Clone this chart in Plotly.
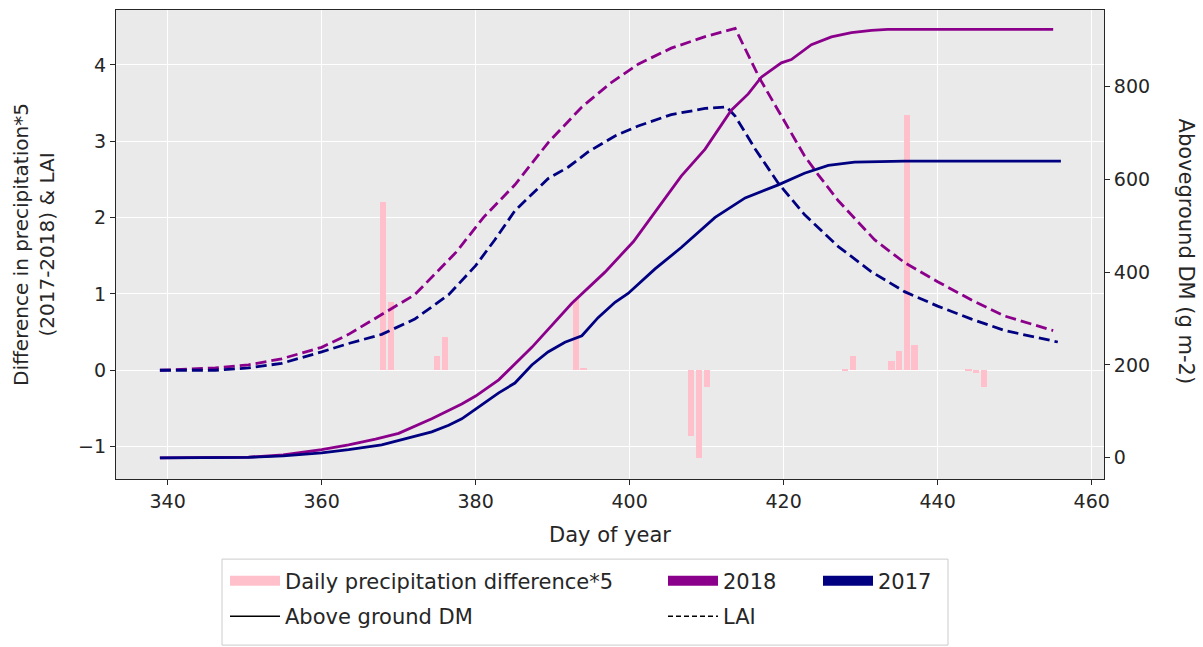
import plotly.graph_objects as go

# ---------------- data ----------------
precip_days = [368, 369, 375, 376, 393, 394, 408, 409, 410, 428, 429, 434, 435, 436, 437, 444, 445, 446]
precip_diff5 = [2.21, 0.89, 0.19, 0.44, 0.94, 0.03, -0.86, -1.15, -0.22, 0.02, 0.19, 0.12, 0.25, 3.35, 0.33, 0.02, -0.03, -0.22]

dm18_days = [339, 345, 350.5, 355, 360, 363.5, 367, 370, 374.3, 378.2, 380, 383, 387.3, 392.5, 396.8, 400.5,
             403.7, 406.7, 409.8, 413.2, 415.4, 417.1, 419.7, 421, 423.6, 426.2, 428.8, 431.4, 433.5, 455]
dm18 = [0, 0.5, 1.3, 6, 17.5, 28, 40, 52.6, 84, 116, 133, 168, 238, 333, 400, 466,
        540, 607, 665, 749, 784, 820, 851, 858, 890, 907, 916, 921, 923, 923]

dm17_days = [339, 350.5, 355, 360, 363.5, 367.8, 370.8, 374.3, 376.5, 378.2, 380, 383, 385.1, 387.3, 389.4, 391.6,
             393.8, 395.9, 398.1, 399.8, 403.3, 406.7, 411.1, 415, 419.3, 422.7, 425.8, 429.2, 435.7, 456]
dm17 = [0, 1, 4, 10.5, 17.5, 28, 40.6, 56, 70, 84, 105, 140, 161, 200, 228, 249,
        263, 302, 335, 354, 407, 453, 518, 560, 588, 613, 630, 637, 639, 639]

lai18_days = [339, 346.2, 350.5, 354.8, 360, 363.5, 367.8, 372.1, 377.5, 381, 385.1, 389.4, 393.8, 397.5, 401.1,
              405.4, 409.8, 413.7, 416.9, 422.7, 424.5, 427.1, 431.8, 435.7, 440, 444.4, 448.7, 455]
lai18 = [0, 0.03, 0.07, 0.15, 0.30, 0.47, 0.73, 0.99, 1.55, 2.0, 2.43, 2.98, 3.45, 3.76, 4.01,
         4.22, 4.37, 4.48, 3.82, 2.81, 2.56, 2.22, 1.71, 1.41, 1.16, 0.92, 0.71, 0.52]

lai17_days = [339, 346.2, 350.5, 354.8, 360, 363.5, 367.8, 372.1, 376.5, 380, 382.5, 385.1, 389.4, 392, 394.6,
              398.1, 401.1, 405.4, 409.8, 412.6, 413.7, 416.3, 419.3, 422.7, 427.1, 431.4, 435.7, 440, 444.4,
              448.7, 455.6]
lai17 = [0, 0.0, 0.03, 0.09, 0.24, 0.35, 0.47, 0.67, 0.99, 1.37, 1.71, 2.09, 2.51, 2.66, 2.86,
         3.07, 3.20, 3.35, 3.43, 3.45, 3.33, 2.90, 2.45, 2.04, 1.62, 1.29, 1.03, 0.84, 0.67,
         0.52, 0.37]

x_ticks = [340, 360, 380, 400, 420, 440, 460]
yl_ticks = [-1, 0, 1, 2, 3, 4]
yr_ticks = [0, 200, 400, 600, 800]

C18 = "#8B008B"
C17 = "#000080"
CPINK = "#FFC0CB"
FONT = "DejaVu Sans"
TXT = "#262626"

fig = go.Figure()

fig.add_trace(go.Bar(x=precip_days, y=precip_diff5, width=0.8, marker=dict(color=CPINK, line=dict(width=0)),
                     showlegend=False, yaxis="y"))
fig.add_trace(go.Scatter(x=lai18_days, y=lai18, mode="lines", line=dict(color=C18, width=2.8, dash="11px,5px"),
                         showlegend=False, yaxis="y"))
fig.add_trace(go.Scatter(x=lai17_days, y=lai17, mode="lines", line=dict(color=C17, width=2.8, dash="11px,5px"),
                         showlegend=False, yaxis="y"))
fig.add_trace(go.Scatter(x=dm18_days, y=dm18, mode="lines", line=dict(color=C18, width=2.8),
                         showlegend=False, yaxis="y2"))
fig.add_trace(go.Scatter(x=dm17_days, y=dm17, mode="lines", line=dict(color=C17, width=2.8),
                         showlegend=False, yaxis="y2"))

# legend entries (one legend per grid cell)
legend_entries = [
    ("Daily precipitation difference*5", CPINK, 14, "solid", "legend"),
    ("Above ground DM", "#000000", 1.5, "solid", "legend2"),
    ("2018", C18, 14, "solid", "legend3"),
    ("LAI", "#000000", 1.5, "5px,3px", "legend4"),
    ("2017", C17, 14, "solid", "legend5"),
]
for name, col, w, dash, lg in legend_entries:
    fig.add_trace(go.Scatter(x=[None], y=[None], mode="lines", name=name,
                             line=dict(color=col, width=w, dash=dash), legend=lg, showlegend=True))

W, H = 1203, 647
L, R, T, B = 116, 99, 10, 157
pw, ph = W - L - R, H - T - B

def px(xp):
    return (xp - L) / pw

def py(yp):
    return (H - B - yp) / ph

def leg(x, y):
    return dict(x=px(x), y=py(y), xanchor="left", yanchor="middle", bgcolor="rgba(0,0,0,0)",
                font=dict(family=FONT, size=21, color=TXT), itemwidth=50, borderwidth=0)

fig.update_layout(
    width=W, height=H,
    margin=dict(l=L, r=R, t=T, b=B),
    paper_bgcolor="white", plot_bgcolor="#EAEAEA",
    font=dict(family=FONT, size=19, color=TXT),
    bargap=0,
    xaxis=dict(range=[333.3, 461.6], tickvals=x_ticks, ticks="outside", ticklen=5, tickcolor=TXT,
               showgrid=True, gridcolor="white", gridwidth=1.3, zeroline=False,
               showline=True, linecolor=TXT, linewidth=1.2, mirror=True,
               tickfont=dict(size=19, color=TXT),
               title=dict(text="Day of year", font=dict(size=21, color=TXT), standoff=16)),
    yaxis=dict(range=[-1.425, 4.72], tickvals=yl_ticks, ticks="outside", ticklen=5, tickcolor=TXT,
               showgrid=True, gridcolor="white", gridwidth=1.3, zeroline=False,
               showline=True, linecolor=TXT, linewidth=1.2, mirror=True,
               tickfont=dict(size=19, color=TXT),
               title=dict(text="Difference in precipitation*5<br>(2017-2018) & LAI",
                          font=dict(size=20, color=TXT), standoff=18)),
    yaxis2=dict(range=[-45.7, 964.8], tickvals=yr_ticks, overlaying="y", side="right",
                ticks="outside", ticklen=5, tickcolor=TXT, showgrid=False, zeroline=False,
                showline=False, tickfont=dict(size=19, color=TXT)),
    legend=leg(225, 594.6),
    legend2=leg(225, 630.7),
    legend3=leg(663, 594.6),
    legend4=leg(663, 630.7),
    legend5=leg(818, 594.6),
    annotations=[dict(text="Aboveground DM (g m-2)", xref="paper", yref="paper", x=px(1186), y=0.485,
                      textangle=90, showarrow=False, font=dict(family=FONT, size=21, color=TXT),
                      xanchor="center", yanchor="middle")],
    shapes=[dict(type="rect", xref="paper", yref="paper", x0=px(222), x1=px(948), y0=py(572), y1=py(660),
                 line=dict(color="#CCCCCC", width=1), fillcolor="white", layer="below")],
)

fig.write_html("out.html")
